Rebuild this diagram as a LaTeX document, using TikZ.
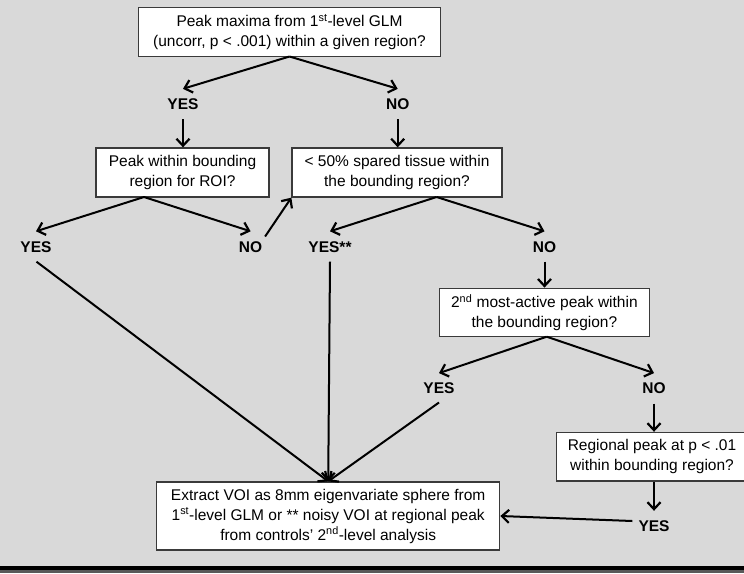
\documentclass[tikz,border=0pt]{standalone}
\usepackage{fontspec}
\setmainfont{Liberation Sans}
\usetikzlibrary{arrows.meta,calc}
\definecolor{bg}{HTML}{D9D9D9}
\definecolor{boxline}{HTML}{3A3A3A}
\begin{document}
\begin{tikzpicture}[x=1pt,y=-1pt,
  box/.style={draw=boxline,line width=1.3pt,fill=white,align=center,inner sep=2pt,
    font=\fontsize{15.5}{20}\selectfont},
  lab/.style={font=\fontsize{15.5}{18}\selectfont\bfseries,inner xsep=2pt,inner ysep=9.5pt,
    text height=11pt,text depth=0pt},
  arr/.style={line width=2pt,-{Straight Barb[length=7pt,width=13pt,line width=2.2pt]}},
  ln/.style={line width=2pt}]
\useasboundingbox (0,0) rectangle (744,573);
\fill[bg] (0,0) rectangle (744,573);
\fill[black] (0,566) rectangle (744,569.5);
\fill[black!65] (0,569.5) rectangle (744,573);
\clip (0,0) rectangle (744,566);
% boxes
\node[box,minimum width=302pt,minimum height=49pt] (top) at (289.5,32)
  {Peak maxima from 1\textsuperscript{st}-level GLM\\(uncorr, p < .001) within a given region?};
\node[box,minimum width=173pt,minimum height=49pt] (b2) at (182.5,172.5)
  {Peak within bounding\\region for ROI?};
\node[box,minimum width=210pt,minimum height=49pt] (b3) at (397,172.5)
  {< 50\% spared tissue within\\the bounding region?};
\node[box,minimum width=210pt,minimum height=48.5pt] (b4) at (544.4,312.5)
  {2\textsuperscript{nd} most-active peak within\\the bounding region?};
\node[box,minimum width=191pt,minimum height=48.5pt] (b5) at (652,456.7)
  {Regional peak at p < .01\\within bounding region?};
\node[box,minimum width=343pt,minimum height=68pt] (fin) at (328.2,516)
  {Extract VOI as 8mm eigenvariate sphere from\\1\textsuperscript{st}-level GLM or ** noisy VOI at regional peak\\from controls’ 2\textsuperscript{nd}-level analysis};
% labels
\node[lab] (y1) at (183,104) {YES};
\node[lab] (n1) at (397.7,104) {NO};
\node[lab] (y2) at (36,246.5) {YES};
\node[lab] (n2) at (250.6,246.5) {NO};
\node[lab] (y3) at (330,246.5) {YES**};
\node[lab] (n3) at (544.5,246.5) {NO};
\node[lab] (y4) at (439,388.3) {YES};
\node[lab] (n4) at (654,388.3) {NO};
\node[lab] (y5) at (654,526) {YES};
% fork points
\coordinate (f1) at (289.5,56.5);
\coordinate (f2) at (144,197);
\coordinate (f3) at (436.6,197);
\coordinate (f4) at (546.7,336.7);
% connectors
\draw[arr] (f1) -- (y1.north);
\draw[arr] (f1) -- (n1.north);
\draw[arr] (y1.south) -- (y1.south |- b2.north);
\draw[arr] (n1.south) -- (n1.south |- b3.north);
\draw[arr] (f2) -- (y2.north);
\draw[arr] (f2) -- (n2.north);
\draw[arr] ($(n2)+(14.5,-10)$) -- (b3.south west);
\draw[arr] (f3) -- (y3.north);
\draw[arr] (f3) -- (n3.north);
\draw[arr] (n3.south) -- (n3.south |- b4.north);
\draw[arr] (f4) -- (y4.north);
\draw[arr] (f4) -- (n4.north);
\draw[arr] (n4.south) -- (n4.south |- b5.north);
\draw[arr] (b5.south -| y5) -- (y5.north);
\draw[arr] ($(y5.west)+(-4,-5)$) -- (fin.east);
\draw[arr] ($(y2.south)+(0.5,0)$) -- (fin.north);
\draw[arr] (y3.south) -- (fin.north);
\draw[arr] ($(y4.south)+(0,-1)$) -- (fin.north);
\end{tikzpicture}
\end{document}
